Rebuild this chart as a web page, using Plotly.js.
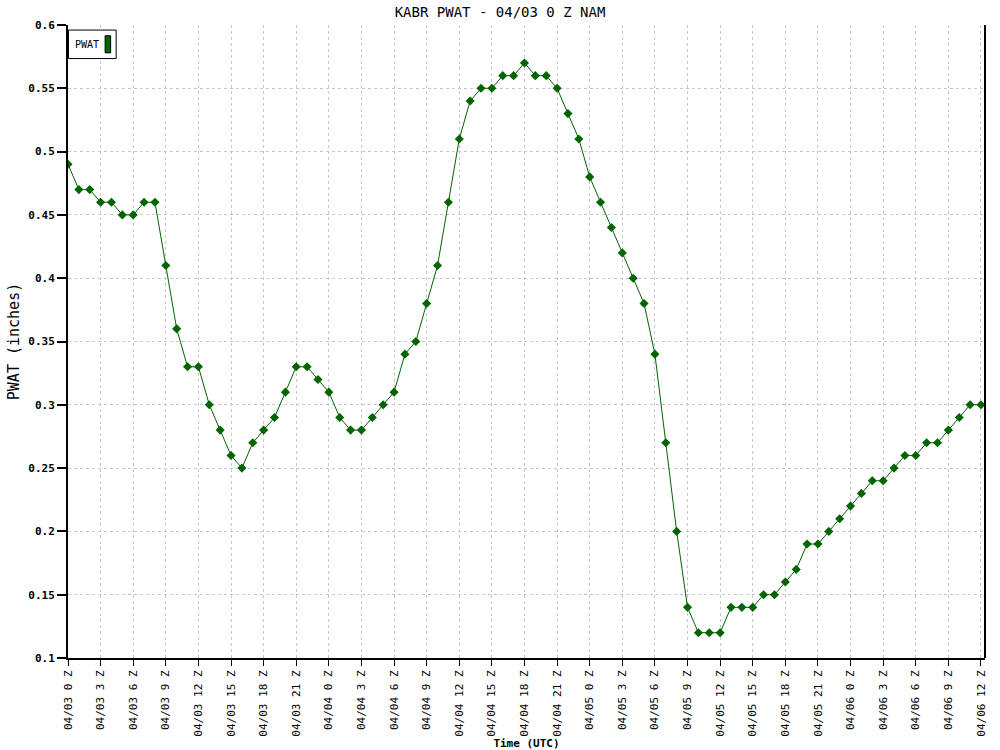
<!DOCTYPE html>
<html>
<head>
<meta charset="utf-8">
<script src="https://cdn.plot.ly/plotly-3.0.1.min.js"></script>
<style>html,body{margin:0;padding:0;background:#fff;}#chart{width:1000px;height:750px;}</style>
</head>
<body>
<div id="chart"></div>
<script>
// forecast hour offsets from 04/03 0 Z
const hours = [];
for (let h = 0; h <= 84; h++) hours.push(h);

const pwat = [
  0.49,0.47,0.47,0.46,0.46,0.45,0.45,0.46,0.46,0.41,
  0.36,0.33,0.33,0.30,0.28,0.26,0.25,0.27,0.28,0.29,
  0.31,0.33,0.33,0.32,0.31,0.29,0.28,0.28,0.29,0.30,
  0.31,0.34,0.35,0.38,0.41,0.46,0.51,0.54,0.55,0.55,
  0.56,0.56,0.57,0.56,0.56,0.55,0.53,0.51,0.48,0.46,
  0.44,0.42,0.40,0.38,0.34,0.27,0.20,0.14,0.12,0.12,
  0.12,0.14,0.14,0.14,0.15,0.15,0.16,0.17,0.19,0.19,
  0.20,0.21,0.22,0.23,0.24,0.24,0.25,0.26,0.26,0.27,
  0.27,0.28,0.29,0.30,0.30
];

const tickHours = [0,3,6,9,12,15,18,21,24,27,30,33,36,39,42,45,48,51,54,57,60,63,66,69,72,75,78,81,84];
const tickLabels = [
  "04/03 0 Z","04/03 3 Z","04/03 6 Z","04/03 9 Z","04/03 12 Z","04/03 15 Z","04/03 18 Z","04/03 21 Z",
  "04/04 0 Z","04/04 3 Z","04/04 6 Z","04/04 9 Z","04/04 12 Z","04/04 15 Z","04/04 18 Z","04/04 21 Z",
  "04/05 0 Z","04/05 3 Z","04/05 6 Z","04/05 9 Z","04/05 12 Z","04/05 15 Z","04/05 18 Z","04/05 21 Z",
  "04/06 0 Z","04/06 3 Z","04/06 6 Z","04/06 9 Z","04/06 12 Z"
];
const yTicks = [0.1,0.15,0.2,0.25,0.3,0.35,0.4,0.45,0.5,0.55,0.6];
const yTickText = ["0.1","0.15","0.2","0.25","0.3","0.35","0.4","0.45","0.5","0.55","0.6"];

const mono = "DejaVu Sans Mono, Liberation Mono, monospace";
const green = "#006400";

const trace = {
  x: hours, y: pwat, type: "scatter", mode: "lines+markers", name: "PWAT",
  line: {color: green, width: 1},
  marker: {symbol: "diamond", size: 7, color: green},
  showlegend: false, hoverinfo: "x+y"
};

const layout = {
  width: 1000, height: 750,
  margin: {l: 68, r: 15, t: 25, b: 92, pad: 0},
  paper_bgcolor: "#fff", plot_bgcolor: "#fff",
  title: {text: "KABR PWAT - 04/03 0 Z NAM", x: 0.5, xanchor: "center", y: 0.984, yanchor: "middle",
          font: {family: mono, size: 14, color: "#000"}},
  xaxis: {
    range: [0, 84.37], tickmode: "array", tickvals: tickHours, ticktext: tickLabels,
    tickangle: -90, ticks: "outside", ticklen: 6, tickcolor: "#000", tickwidth: 1,
    tickfont: {family: mono, size: 11, color: "#000"},
    showline: true, linecolor: "#000", linewidth: 2, mirror: false,
    showgrid: true, gridcolor: "#c8c8c8", griddash: "dot", gridwidth: 1,
    zeroline: false, fixedrange: true,
    title: {text: "<b>Time (UTC)</b>", standoff: 4, font: {family: mono, size: 11, color: "#000"}}
  },
  yaxis: {
    range: [0.1, 0.6], tickmode: "array", tickvals: yTicks, ticktext: yTickText.map(t => "<b>" + t + "</b>"),
    ticks: "outside", ticklen: 9, tickcolor: "#000", tickwidth: 2,
    tickfont: {family: mono, size: 11, color: "#000"},
    showline: true, linecolor: "#000", linewidth: 2,
    showgrid: true, gridcolor: "#c8c8c8", griddash: "dot", gridwidth: 1,
    zeroline: false, fixedrange: true,
    title: {text: "PWAT (inches)", standoff: 5, font: {family: mono, size: 15, color: "#000"}}
  },
  shapes: [
    {type: "line", xref: "paper", yref: "paper", x0: 1, x1: 1, y0: 0, y1: 1, line: {color: "#000", width: 2}},
    {type: "rect", xref: "paper", yref: "paper", x0: 0.0005, x1: 0.0525, y0: 0.947, y1: 0.992,
     line: {color: "#000", width: 1}, fillcolor: "#fff"},
    {type: "rect", xref: "paper", yref: "paper", x0: 0.0405, x1: 0.0465, y0: 0.956, y1: 0.983,
     line: {color: "#000", width: 1}, fillcolor: green}
  ],
  annotations: [
    {text: "PWAT", xref: "paper", yref: "paper", x: 0.0055, y: 0.9695, xanchor: "left", yanchor: "middle",
     showarrow: false, font: {family: mono, size: 10, color: "#000"}}
  ]
};

Plotly.newPlot("chart", [trace], layout, {displayModeBar: false, staticPlot: true});
</script>
</body>
</html>
